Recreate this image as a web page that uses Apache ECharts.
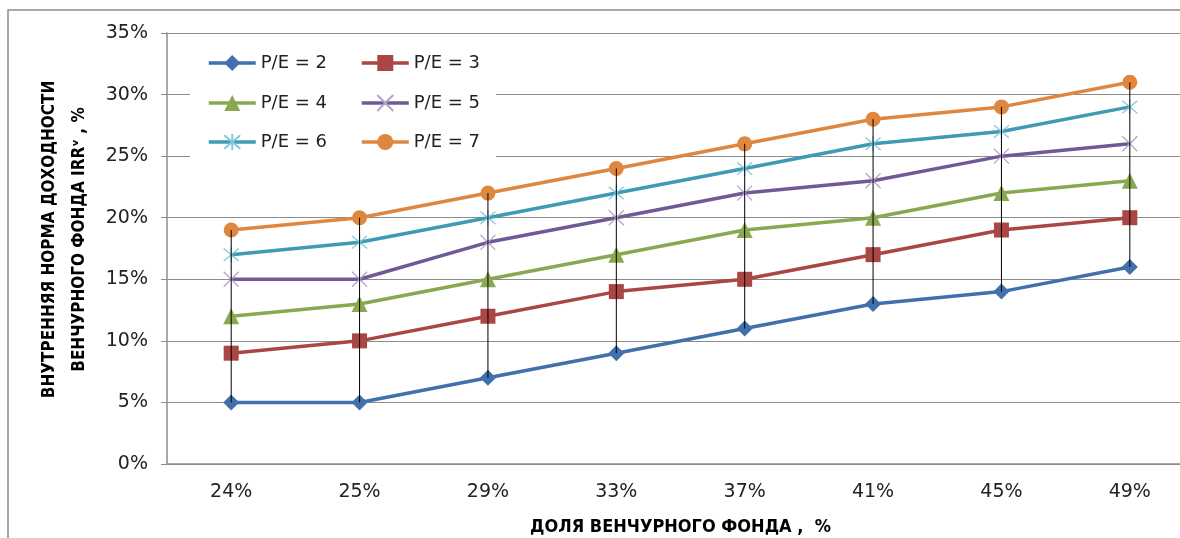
<!DOCTYPE html>
<html>
<head>
<meta charset="utf-8">
<script src="https://cdn.jsdelivr.net/npm/echarts@6/dist/echarts.min.js"></script>
<style>
  html, body { margin: 0; padding: 0; background: #fff; }
  #chart { width: 1180px; height: 538px; }
</style>
</head>
<body>
<div id="chart"></div>
<script>
// Share of the venture fund (x categories)
const categories = ['24%', '25%', '29%', '33%', '37%', '41%', '45%', '49%'];

// IRR of the venture fund, % — one series per P/E multiple
const pe2 = [5, 5, 7, 9, 11, 13, 14, 16];
const pe3 = [9, 10, 12, 14, 15, 17, 19, 20];
const pe4 = [12, 13, 15, 17, 19, 20, 22, 23];
const pe5 = [15, 15, 18, 20, 22, 23, 25, 26];
const pe6 = [17, 18, 20, 22, 24, 26, 27, 29];
const pe7 = [19, 20, 22, 24, 26, 28, 29, 31];

const seriesNames = ['P/E = 2', 'P/E = 3', 'P/E = 4', 'P/E = 5', 'P/E = 6', 'P/E = 7'];
const yTicks = { min: 0, max: 35, interval: 5 };

const allSeries = [pe2, pe3, pe4, pe5, pe6, pe7];

// high-low drop lines between the lowest and highest series at each category
const dropLines = categories.map((c, i) => {
  const vals = allSeries.map(s => s[i]);
  return [i, Math.min.apply(null, vals), Math.max.apply(null, vals)];
});

const FONT = '"DejaVu Sans", Verdana, sans-serif';
const TITLE_FONT = '"Liberation Sans Narrow", "DejaVu Sans Condensed", "Open Sans", sans-serif';

const styles = [
  { color: '#4170AD', symbol: 'diamond', size: 16 },
  { color: '#AA4643', symbol: 'rect', size: 15 },
  { color: '#8AA84F', symbol: 'triangle', size: 16 },
  { color: '#705A96', symbol: 'path://M0,0L10,10M10,0L0,10', size: 15, stroke: '#B3A5C8' },
  { color: '#3F9AB3', symbol: 'path://M0,0L10,10M10,0L0,10M5,-1L5,11', size: 15, stroke: '#86C8DB' },
  { color: '#DF873F', symbol: 'circle', size: 15 }
];

const lineSeries = allSeries.map((data, k) => {
  const st = styles[k];
  const s = {
    name: seriesNames[k],
    type: 'line',
    data: data,
    symbol: st.symbol,
    symbolSize: st.size,
    lineStyle: { color: st.color, width: 3.5 },
    itemStyle: { color: st.color },
    emphasis: { disabled: true },
    z: 2
  };
  if (st.stroke) {
    s.itemStyle = { color: 'rgba(0,0,0,0)', borderColor: st.stroke, borderWidth: 1.3 };
  }
  return s;
});

const chart = echarts.init(document.getElementById('chart'), null, { renderer: 'canvas' });

function legendRow(top, names) {
  return {
    left: 207,
    top: top,
    padding: 0,
    orient: 'horizontal',
    itemWidth: 47,
    itemHeight: 20,
    itemGap: 33,
    selectedMode: false,
    data: names,
    lineStyle: { width: 3.5 },
    textStyle: { fontFamily: FONT, fontSize: 18, color: '#222' }
  };
}

chart.setOption({
  animation: false,
  backgroundColor: '#fff',
  grid: { left: 167, top: 33, width: 1027, height: 431, outerBoundsMode: 'none' },
  graphic: [
    {
      type: 'rect', z: 100, silent: true,
      shape: { x: 8, y: 10, width: 1200, height: 600 },
      style: { fill: 'none', stroke: '#8a8a8a', lineWidth: 1.5 }
    },
    {
      type: 'rect', z: 1, silent: true,
      shape: { x: 190, y: 42, width: 306, height: 120 },
      style: { fill: '#fff' }
    }
  ],
  legend: [
    legendRow(54, [seriesNames[0], seriesNames[1]]),
    legendRow(94, [seriesNames[2], seriesNames[3]]),
    legendRow(133, [seriesNames[4], seriesNames[5]])
  ],
  xAxis: {
    type: 'category',
    data: categories,
    boundaryGap: true,
    axisLine: { lineStyle: { color: '#8c8c8c', width: 1.5 } },
    axisTick: { show: false },
    axisLabel: { margin: 19, fontFamily: FONT, fontSize: 19, color: '#222' },
    name: 'ДОЛЯ ВЕНЧУРНОГО ФОНДА ,  %',
    nameLocation: 'middle',
    nameGap: 54,
    nameTextStyle: { fontFamily: TITLE_FONT, fontWeight: 'bold', fontSize: 18, color: '#000' }
  },
  yAxis: {
    type: 'value',
    min: yTicks.min,
    max: yTicks.max,
    interval: yTicks.interval,
    axisLine: { show: true, lineStyle: { color: '#8c8c8c', width: 1.5 } },
    axisTick: { show: true, length: 6, lineStyle: { color: '#8c8c8c' } },
    axisLabel: { formatter: '{value}%', margin: 19, fontFamily: FONT, fontSize: 19, color: '#222' },
    splitLine: { show: true, lineStyle: { color: '#8c8c8c', width: 1 } },
    name: 'ВНУТРЕННЯЯ НОРМА ДОХОДНОСТИ\nВЕНЧУРНОГО ФОНДА IRRᵛ , %',
    nameLocation: 'middle',
    nameGap: 71,
    nameTextStyle: { fontFamily: TITLE_FONT, fontWeight: 'bold', fontSize: 17, color: '#000', lineHeight: 30, padding: [0, 0, 0, 18] }
  },
  series: lineSeries.concat([
    {
      type: 'custom',
      name: 'drop',
      silent: true,
      z: 5,
      data: dropLines,
      encode: { x: 0, y: [1, 2] },
      renderItem: function (params, api) {
        const p1 = api.coord([api.value(0), api.value(1)]);
        const p2 = api.coord([api.value(0), api.value(2)]);
        return {
          type: 'line',
          shape: { x1: p1[0], y1: p1[1], x2: p2[0], y2: p2[1] },
          style: { stroke: '#000', lineWidth: 1 }
        };
      }
    }
  ])
});
</script>
</body>
</html>
